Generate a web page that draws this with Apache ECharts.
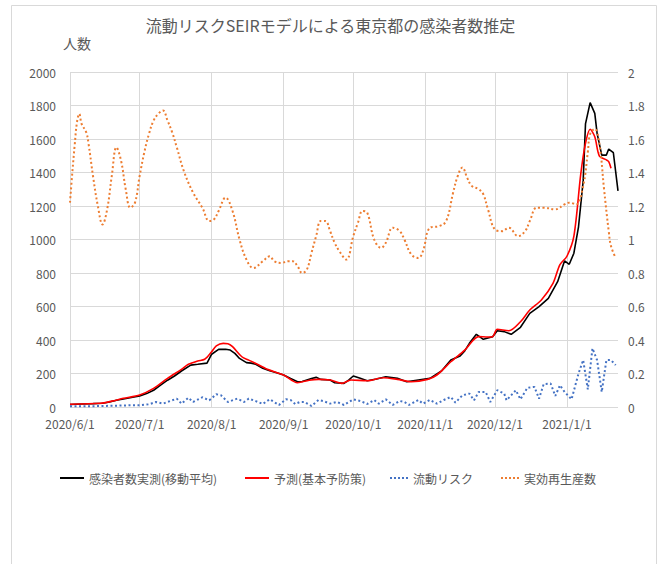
<!DOCTYPE html>
<html><head><meta charset="utf-8">
<script src="https://cdn.jsdelivr.net/npm/echarts@6/dist/echarts.min.js"></script>
<style>html,body{margin:0;padding:0;background:#fff}#c{width:661px;height:564px}</style>
</head><body><div id="c"></div>
<script>
// axis range: daily categories 2020/6/1 .. 2021/1/23
const startDate = [2020, 6, 1];
const dayCount = 237;
const leftTicks = { min: 0, max: 2000, interval: 200 };
const rightTicks = { min: 0, max: 2, interval: 0.2 };

const seriesNames = ['感染者数実測(移動平均)', '予測(基本予防策)', '流動リスク', '実効再生産数'];

// 感染者数実測(移動平均) [date, persons]
const actual = [
 ['2020/6/1',15],['2020/6/6',18],['2020/6/11',20],['2020/6/15',22],['2020/6/18',30],['2020/6/21',40],
 ['2020/6/24',48],['2020/6/28',58],['2020/7/1',66],['2020/7/4',80],['2020/7/7',100],['2020/7/10',130],
 ['2020/7/13',160],['2020/7/16',185],['2020/7/19',215],['2020/7/23',250],['2020/7/26',255],['2020/7/30',262],
 ['2020/8/1',315],['2020/8/4',344],['2020/8/7',345],['2020/8/9',340],['2020/8/11',320],['2020/8/13',290],
 ['2020/8/16',265],['2020/8/18',262],['2020/8/20',255],['2020/8/23',231],['2020/8/26',217],['2020/8/29',205],
 ['2020/9/1',191],['2020/9/4',170],['2020/9/7',151],['2020/9/9',152],['2020/9/11',161],['2020/9/13',170],
 ['2020/9/15',177],['2020/9/17',165],['2020/9/21',161],['2020/9/23',145],['2020/9/27',141],['2020/9/29',161],
 ['2020/10/1',185],['2020/10/4',171],['2020/10/7',157],['2020/10/11',167],['2020/10/15',181],['2020/10/20',171],
 ['2020/10/24',151],['2020/10/29',161],['2020/11/3',171],['2020/11/8',215],['2020/11/12',280],['2020/11/16',305],
 ['2020/11/18',335],['2020/11/20',380],['2020/11/23',434],['2020/11/26',404],['2020/11/30',420],['2020/12/2',455],
 ['2020/12/5',450],['2020/12/8',434],['2020/12/12',476],['2020/12/16',559],['2020/12/20',599],['2020/12/24',649],
 ['2020/12/28',748],['2020/12/31',873],['2021/1/2',852],['2021/1/4',918],['2021/1/6',1076],['2021/1/8',1350],
 ['2021/1/9',1690],['2021/1/11',1817],['2021/1/13',1753],['2021/1/14',1634],['2021/1/16',1504],['2021/1/18',1504],
 ['2021/1/19',1540],['2021/1/21',1518],['2021/1/23',1290]
];

// 予測(基本予防策) [date, persons]
const predicted = [
 ['2020/6/1',16],['2020/6/14',22],['2020/6/19',35],['2020/6/24',52],['2020/7/1',72],['2020/7/7',111],
 ['2020/7/13',171],['2020/7/19',225],['2020/7/22',255],['2020/7/26',275],['2020/7/29',285],['2020/8/1',330],
 ['2020/8/3',365],['2020/8/6',380],['2020/8/8',378],['2020/8/10',360],['2020/8/14',300],['2020/8/17',280],
 ['2020/8/20',260],['2020/8/25',225],['2020/9/1',191],['2020/9/7',145],['2020/9/12',160],['2020/9/16',165],
 ['2020/9/21',161],['2020/9/26',141],['2020/9/30',161],['2020/10/7',157],['2020/10/14',175],['2020/10/20',165],
 ['2020/10/26',151],['2020/11/2',165],['2020/11/6',191],['2020/11/12',270],['2020/11/18',340],['2020/11/24',420],
 ['2020/11/28',418],['2020/11/30',420],['2020/12/2',464],['2020/12/7',455],['2020/12/12',509],['2020/12/16',579],
 ['2020/12/21',639],['2020/12/26',738],['2020/12/29',850],['2021/1/1',900],['2021/1/4',1020],['2021/1/7',1395],
 ['2021/1/9',1574],['2021/1/11',1658],['2021/1/13',1614],['2021/1/15',1498],['2021/1/18',1475],['2021/1/19',1465],
 ['2021/1/20',1425]
];

// 流動リスク [date, value on right axis]
const mobilityRisk = [
 ['2020/6/1',0.005],['2020/6/11',0.005],['2020/6/21',0.008],['2020/6/27',0.01],['2020/7/1',0.01],['2020/7/5',0.016],
 ['2020/7/8',0.03],['2020/7/11',0.02],['2020/7/15',0.04],['2020/7/17',0.05],['2020/7/19',0.02],['2020/7/22',0.055],
 ['2020/7/24',0.03],['2020/7/28',0.058],['2020/7/31',0.04],['2020/8/3',0.076],['2020/8/5',0.07],['2020/8/8',0.03],
 ['2020/8/12',0.05],['2020/8/15',0.03],['2020/8/17',0.05],['2020/8/20',0.035],['2020/8/23',0.018],['2020/8/26',0.046],
 ['2020/8/30',0.012],['2020/9/2',0.046],['2020/9/4',0.042],['2020/9/6',0.018],['2020/9/8',0.03],['2020/9/10',0.03],
 ['2020/9/13',0.006],['2020/9/16',0.042],['2020/9/18',0.036],['2020/9/21',0.02],['2020/9/24',0.03],['2020/9/27',0.012],
 ['2020/10/1',0.046],['2020/10/4',0.036],['2020/10/7',0.018],['2020/10/10',0.042],['2020/10/12',0.02],['2020/10/15',0.046],
 ['2020/10/18',0.012],['2020/10/21',0.036],['2020/10/23',0.03],['2020/10/25',0.012],['2020/10/29',0.042],['2020/10/31',0.02],
 ['2020/11/3',0.042],['2020/11/6',0.02],['2020/11/9',0.042],['2020/11/12',0.06],['2020/11/14',0.026],['2020/11/17',0.07],
 ['2020/11/20',0.08],['2020/11/22',0.04],['2020/11/24',0.09],['2020/11/27',0.09],['2020/11/29',0.03],['2020/12/2',0.10],
 ['2020/12/5',0.08],['2020/12/6',0.04],['2020/12/10',0.10],['2020/12/12',0.046],['2020/12/15',0.115],['2020/12/18',0.12],
 ['2020/12/20',0.05],['2020/12/22',0.137],['2020/12/25',0.14],['2020/12/27',0.066],['2020/12/29',0.13],['2020/12/31',0.09],
 ['2021/1/3',0.046],['2021/1/6',0.20],['2021/1/8',0.28],['2021/1/10',0.105],['2021/1/12',0.35],['2021/1/14',0.28],
 ['2021/1/16',0.09],['2021/1/18',0.28],['2021/1/20',0.28],['2021/1/22',0.25]
];

// 実効再生産数 [date, value on right axis]
const rt = [
 ['2020/6/1',1.22],['2020/6/2',1.40],['2020/6/3',1.56],['2020/6/4',1.70],['2020/6/5',1.75],['2020/6/6',1.69],
 ['2020/6/8',1.64],['2020/6/9',1.57],['2020/6/11',1.37],['2020/6/13',1.20],['2020/6/15',1.09],['2020/6/17',1.18],
 ['2020/6/19',1.38],['2020/6/21',1.55],['2020/6/23',1.47],['2020/6/25',1.30],['2020/6/27',1.19],['2020/6/29',1.22],
 ['2020/7/1',1.38],['2020/7/3',1.52],['2020/7/5',1.63],['2020/7/7',1.71],['2020/7/9',1.75],['2020/7/11',1.77],
 ['2020/7/13',1.71],['2020/7/15',1.64],['2020/7/17',1.55],['2020/7/20',1.41],['2020/7/24',1.28],['2020/7/28',1.19],
 ['2020/7/31',1.11],['2020/8/2',1.12],['2020/8/4',1.17],['2020/8/7',1.25],['2020/8/10',1.17],['2020/8/13',1.00],
 ['2020/8/16',0.88],['2020/8/19',0.83],['2020/8/23',0.87],['2020/8/26',0.90],['2020/8/28',0.87],['2020/8/31',0.86],
 ['2020/9/3',0.87],['2020/9/5',0.87],['2020/9/7',0.84],['2020/9/9',0.80],['2020/9/11',0.82],['2020/9/13',0.92],
 ['2020/9/15',1.02],['2020/9/17',1.11],['2020/9/19',1.11],['2020/9/21',1.05],['2020/9/23',0.98],['2020/9/25',0.93],
 ['2020/9/28',0.88],['2020/10/1',1.02],['2020/10/3',1.10],['2020/10/5',1.17],['2020/10/7',1.16],['2020/10/10',1.00],
 ['2020/10/13',0.95],['2020/10/15',0.98],['2020/10/18',1.07],['2020/10/21',1.05],['2020/10/23',1.00],['2020/10/26',0.91],
 ['2020/10/29',0.89],['2020/10/31',0.93],['2020/11/3',1.07],['2020/11/7',1.08],['2020/11/10',1.11],['2020/11/13',1.28],
 ['2020/11/15',1.38],['2020/11/17',1.43],['2020/11/19',1.37],['2020/11/21',1.32],['2020/11/24',1.30],['2020/11/26',1.27],
 ['2020/11/28',1.18],['2020/12/1',1.06],['2020/12/4',1.05],['2020/12/7',1.07],['2020/12/11',1.02],['2020/12/14',1.05],
 ['2020/12/16',1.11],['2020/12/19',1.19],['2020/12/22',1.19],['2020/12/27',1.18],['2020/12/31',1.21],['2021/1/2',1.22],
 ['2021/1/5',1.21],['2021/1/8',1.32],['2021/1/10',1.52],['2021/1/11',1.63],['2021/1/13',1.66],['2021/1/15',1.57],
 ['2021/1/17',1.30],['2021/1/19',1.05],['2021/1/20',0.96],['2021/1/22',0.89]
];

// build the daily category list
const categories = [];
const catIndex = {};
for (let i = 0; i < dayCount; i++) {
  const d = new Date(startDate[0], startDate[1] - 1, startDate[2] + i);
  const s = d.getFullYear() + '/' + (d.getMonth() + 1) + '/' + d.getDate();
  catIndex[s] = i;
  categories.push(s);
}
const toData = arr => arr.map(p => [catIndex[p[0]], p[1]]);
const isMonthStart = (idx) => categories[idx].split('/')[2] === '1';

const FONT = 'Noto Sans CJK JP';
const GREY = '#595959';
const SOLID_ICON = 'path://M0,0h24v2h-24z';
const DOT_ICON = 'path://M0,0h2v2h-2zM4,0h2v2h-2zM8,0h2v2h-2zM12,0h2v2h-2zM16,0h2v2h-2z';
const legendText = { fontSize: 12, color: GREY };

const chart = echarts.init(document.getElementById('c'), null, { renderer: 'svg' });
chart.setOption({
  animation: false,
  backgroundColor: '#fff',
  textStyle: { fontFamily: FONT },
  title: {
    text: '流動リスクSEIRモデルによる東京都の感染者数推定',
    left: 'center', top: 12,
    textStyle: { fontFamily: FONT, fontSize: 16, fontWeight: 'normal', color: GREY }
  },
  graphic: [{
    type: 'rect', silent: true, z: -10,
    shape: { x: 11.5, y: 5.5, width: 645, height: 580 },
    style: { fill: 'none', stroke: '#d9d9d9', lineWidth: 1 }
  }],
  legend: [
    { data: [{ name: seriesNames[0], icon: SOLID_ICON }], left: 55, top: 467, itemWidth: 24, itemHeight: 2, textStyle: legendText },
    { data: [{ name: seriesNames[1], icon: SOLID_ICON }], left: 240, top: 467, itemWidth: 24, itemHeight: 2, textStyle: legendText },
    { data: [{ name: seriesNames[2], icon: DOT_ICON }], left: 385, top: 467, itemWidth: 18, itemHeight: 2, textStyle: legendText },
    { data: [{ name: seriesNames[3], icon: DOT_ICON }], left: 496, top: 467, itemWidth: 18, itemHeight: 2, textStyle: legendText }
  ],
  grid: { left: 70, right: 43, top: 72, bottom: 157, containLabel: false },
  xAxis: {
    type: 'category', data: categories, boundaryGap: false,
    axisLine: { show: false }, axisTick: { show: false },
    axisLabel: { interval: (i) => isMonthStart(i), color: GREY, fontSize: 12, margin: 10 },
    splitLine: { show: true, interval: (i) => isMonthStart(i), lineStyle: { color: '#d9d9d9', width: 1 } }
  },
  yAxis: [
    {
      type: 'value', min: leftTicks.min, max: leftTicks.max, interval: leftTicks.interval,
      name: '人数', nameLocation: 'end', nameGap: 22,
      nameTextStyle: { color: GREY, fontSize: 14, align: 'center', padding: [0, 0, 0, 14] },
      axisLine: { show: false }, axisTick: { show: false },
      axisLabel: { color: GREY, fontSize: 12, margin: 14, formatter: v => String(v) },
      splitLine: { show: true, lineStyle: { color: '#d9d9d9', width: 1 } }
    },
    {
      type: 'value', min: rightTicks.min, max: rightTicks.max, interval: rightTicks.interval,
      axisLine: { show: false }, axisTick: { show: false },
      axisLabel: { color: GREY, fontSize: 12, margin: 10, formatter: v => String(Math.round(v * 10) / 10) },
      splitLine: { show: false }
    }
  ],
  series: [
    { name: seriesNames[0], type: 'line', data: toData(actual), symbol: 'none', smooth: false,
      lineStyle: { color: '#000000', width: 1.6 }, itemStyle: { color: '#000000' } },
    { name: seriesNames[1], type: 'line', data: toData(predicted), symbol: 'none', smooth: 0.3,
      lineStyle: { color: '#ff0000', width: 1.6 }, itemStyle: { color: '#ff0000' } },
    { name: seriesNames[2], type: 'line', yAxisIndex: 1, data: toData(mobilityRisk), symbol: 'none', smooth: false,
      lineStyle: { color: '#4472c4', width: 2, type: [2, 2.5] }, itemStyle: { color: '#4472c4' } },
    { name: seriesNames[3], type: 'line', yAxisIndex: 1, data: toData(rt), symbol: 'none', smooth: 0.4,
      lineStyle: { color: '#ed7d31', width: 2, type: [2, 2.5] }, itemStyle: { color: '#ed7d31' } }
  ]
});
</script></body></html>
